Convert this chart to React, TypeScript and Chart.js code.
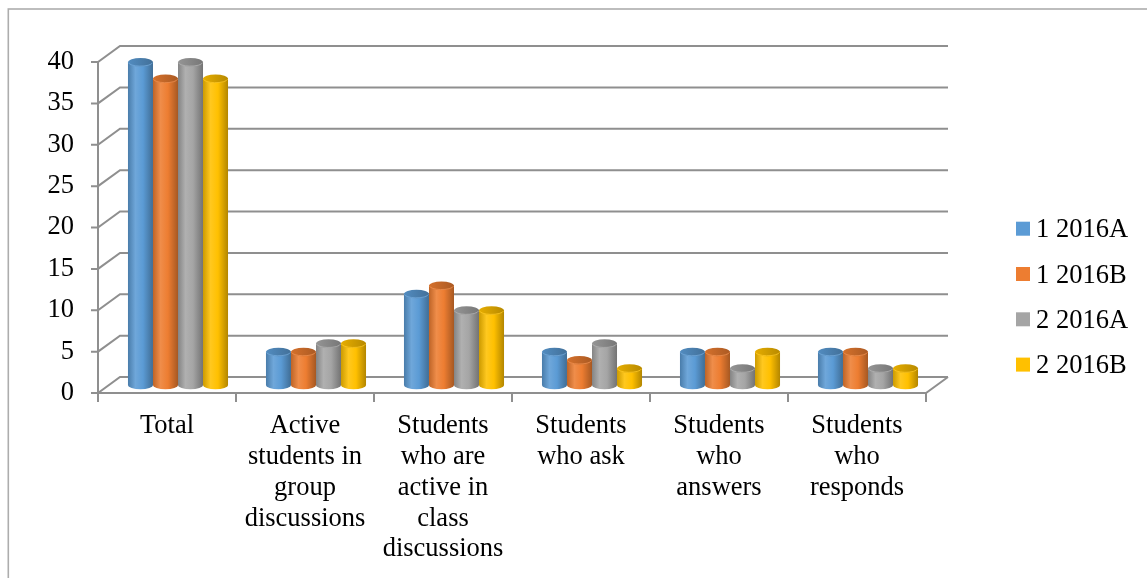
import React, { useEffect, useRef } from "react";
import { Chart, registerables } from "chart.js";

Chart.register(...registerables);

// Category labels, pre-wrapped into lines
const categories: string[][] = [
  ["Total"],
  ["Active", "students in", "group", "discussions"],
  ["Students", "who are", "active in", "class", "discussions"],
  ["Students", "who ask"],
  ["Students", "who", "answers"],
  ["Students", "who", "responds"],
];

const seriesNames = ["1 2016A", "1 2016B", "2 2016A", "2 2016B"];
const class1A = [39, 4, 11, 4, 4, 4];
const class1B = [37, 4, 12, 3, 4, 4];
const class2A = [39, 5, 9, 5, 2, 2];
const class2B = [37, 5, 9, 2, 4, 2];
const seriesValues = [class1A, class1B, class2A, class2B];
const seriesColors = ["#5B9BD5", "#ED7D31", "#A5A5A5", "#FFC000"];

const yMin = 0;
const yMax = 40;
const yStep = 5;

// Oblique depth of the plot box (back wall offset)
const DEPTH_X = 22;
const DEPTH_Y = -16;

const FONT_FAMILY = '"Liberation Serif", "Times New Roman", serif';
const FONT_SIZE = 26.5;
const LINE_COLOR = "#8f8f8f";

function shade(hex: string, f: number): string {
  const n = parseInt(hex.slice(1), 16);
  const ch = [(n >> 16) & 255, (n >> 8) & 255, n & 255].map((c) =>
    Math.max(0, Math.min(255, Math.round(f >= 1 ? c + (255 - c) * (f - 1) : c * f)))
  );
  return `rgb(${ch[0]},${ch[1]},${ch[2]})`;
}

function drawCylinder(
  ctx: CanvasRenderingContext2D,
  cx: number,
  topY: number,
  baseY: number,
  w: number,
  color: string
) {
  const rx = w / 2;
  const ry = w * 0.17;
  const left = cx - rx;
  const right = cx + rx;

  const body = ctx.createLinearGradient(left, 0, right, 0);
  body.addColorStop(0, shade(color, 0.8));
  body.addColorStop(0.3, shade(color, 1.12));
  body.addColorStop(0.6, shade(color, 1.0));
  body.addColorStop(1, shade(color, 0.7));
  ctx.beginPath();
  ctx.moveTo(left, topY);
  ctx.lineTo(left, baseY);
  ctx.ellipse(cx, baseY, rx, ry, 0, Math.PI, 0, true);
  ctx.lineTo(right, topY);
  ctx.closePath();
  ctx.fillStyle = body;
  ctx.fill();

  const top = ctx.createLinearGradient(left, 0, right, 0);
  top.addColorStop(0, shade(color, 0.9));
  top.addColorStop(1, shade(color, 0.72));
  ctx.beginPath();
  ctx.ellipse(cx, topY, rx, ry, 0, 0, Math.PI * 2);
  ctx.fillStyle = top;
  ctx.fill();
  ctx.lineWidth = 0.8;
  ctx.strokeStyle = shade(color, 1.15);
  ctx.beginPath();
  ctx.ellipse(cx, topY, rx - 0.4, ry - 0.4, 0, 0.1, Math.PI - 0.1);
  ctx.stroke();
}

const depthPlugin = {
  id: "depthBox",
  beforeDraw(chart: any) {
    const ctx: CanvasRenderingContext2D = chart.ctx;
    ctx.save();
    ctx.fillStyle = "#ffffff";
    ctx.fillRect(0, 0, chart.width, chart.height);
    ctx.strokeStyle = "#adadad";
    ctx.lineWidth = 1.6;
    ctx.strokeRect(8.3, 9, chart.width + 50, chart.height + 50);
    ctx.restore();
  },
  beforeDatasetsDraw(chart: any) {
    const ctx: CanvasRenderingContext2D = chart.ctx;
    const a = chart.chartArea;
    const xs = chart.scales.x;
    const ys = chart.scales.y;
    ctx.save();
    ctx.lineCap = "butt";

    // back wall grid, left wall diagonals, y tick marks
    ctx.strokeStyle = LINE_COLOR;
    ctx.lineWidth = 2;
    for (let v = yMin; v <= yMax; v += yStep) {
      const yf = ys.getPixelForValue(v);
      ctx.beginPath();
      ctx.moveTo(a.left - 7, yf);
      ctx.lineTo(a.left, yf);
      ctx.lineTo(a.left + DEPTH_X, yf + DEPTH_Y);
      ctx.lineTo(a.right + DEPTH_X, yf + DEPTH_Y);
      ctx.stroke();
    }

    // front vertical axis
    ctx.beginPath();
    ctx.moveTo(a.left, ys.getPixelForValue(yMax));
    ctx.lineTo(a.left, a.bottom);
    ctx.stroke();

    // floor front edge and right edge
    ctx.beginPath();
    ctx.moveTo(a.left, a.bottom);
    ctx.lineTo(a.right, a.bottom);
    ctx.lineTo(a.right + DEPTH_X, a.bottom + DEPTH_Y);
    ctx.stroke();

    // category tick marks
    const n = chart.data.labels.length;
    const catW = (a.right - a.left) / n;
    for (let i = 0; i <= n; i++) {
      const px = xs.getPixelForValue(0) - catW / 2 + i * catW;
      ctx.beginPath();
      ctx.moveTo(px, a.bottom);
      ctx.lineTo(px, a.bottom + 9);
      ctx.stroke();
    }

    // cylinders, placed halfway into the depth
    for (let c = 0; c < n; c++) {
      chart.data.datasets.forEach((ds: any, di: number) => {
        const el = chart.getDatasetMeta(di).data[c];
        const p = el.getProps(["x", "y", "base", "width"], true);
        drawCylinder(
          ctx,
          p.x + DEPTH_X / 2,
          p.y + DEPTH_Y / 2,
          p.base + DEPTH_Y / 2,
          p.width,
          ds.backgroundColor
        );
      });
    }
    ctx.restore();
    return false;
  },
  afterDraw(chart: any) {
    const ctx: CanvasRenderingContext2D = chart.ctx;
    ctx.save();
    ctx.font = `${FONT_SIZE}px ${FONT_FAMILY}`;
    ctx.textBaseline = "alphabetic";
    ctx.textAlign = "left";
    chart.data.datasets.forEach((ds: any, i: number) => {
      const cy = 228.7 + i * 45.3;
      ctx.fillStyle = ds.backgroundColor;
      ctx.fillRect(1016, cy - 7, 14, 14);
      ctx.fillStyle = "#000000";
      ctx.fillText(ds.label, 1036, cy + 8.5);
    });
    ctx.restore();
  },
};

export default function App() {
  const canvasRef = useRef<HTMLCanvasElement | null>(null);

  useEffect(() => {
    if (!canvasRef.current) return;
    const font = { family: FONT_FAMILY, size: FONT_SIZE, lineHeight: 1.16 };
    const chart = new Chart(canvasRef.current, {
      type: "bar",
      data: {
        labels: categories,
        datasets: seriesNames.map((name, i) => ({
          label: name,
          data: seriesValues[i],
          backgroundColor: seriesColors[i],
          categoryPercentage: 0.725,
          barPercentage: 1,
        })),
      },
      options: {
        animation: false,
        responsive: true,
        maintainAspectRatio: false,
        layout: { padding: { left: 0, top: 62, right: 221, bottom: 0 } },
        plugins: {
          legend: { display: false },
          tooltip: { enabled: false },
        },
        scales: {
          x: {
            grid: { display: false, drawTicks: false },
            border: { display: false },
            ticks: {
              font,
              color: "#000000",
              padding: 18,
              maxRotation: 0,
              minRotation: 0,
              autoSkip: false,
            },
            afterFit(scale: any) {
              scale.height = 185;
            },
          },
          y: {
            min: yMin,
            max: yMax,
            grid: { display: false, drawTicks: false },
            border: { display: false },
            ticks: {
              stepSize: yStep,
              font,
              color: "#000000",
              padding: 24,
            },
            afterFit(scale: any) {
              scale.width = 98;
            },
          },
        },
      },
      plugins: [depthPlugin],
    });
    return () => chart.destroy();
  }, []);

  return (
    <div style={{ position: "fixed", left: 0, top: 0, width: 1147, height: 578, background: "#fff" }}>
      <canvas ref={canvasRef} />
    </div>
  );
}
